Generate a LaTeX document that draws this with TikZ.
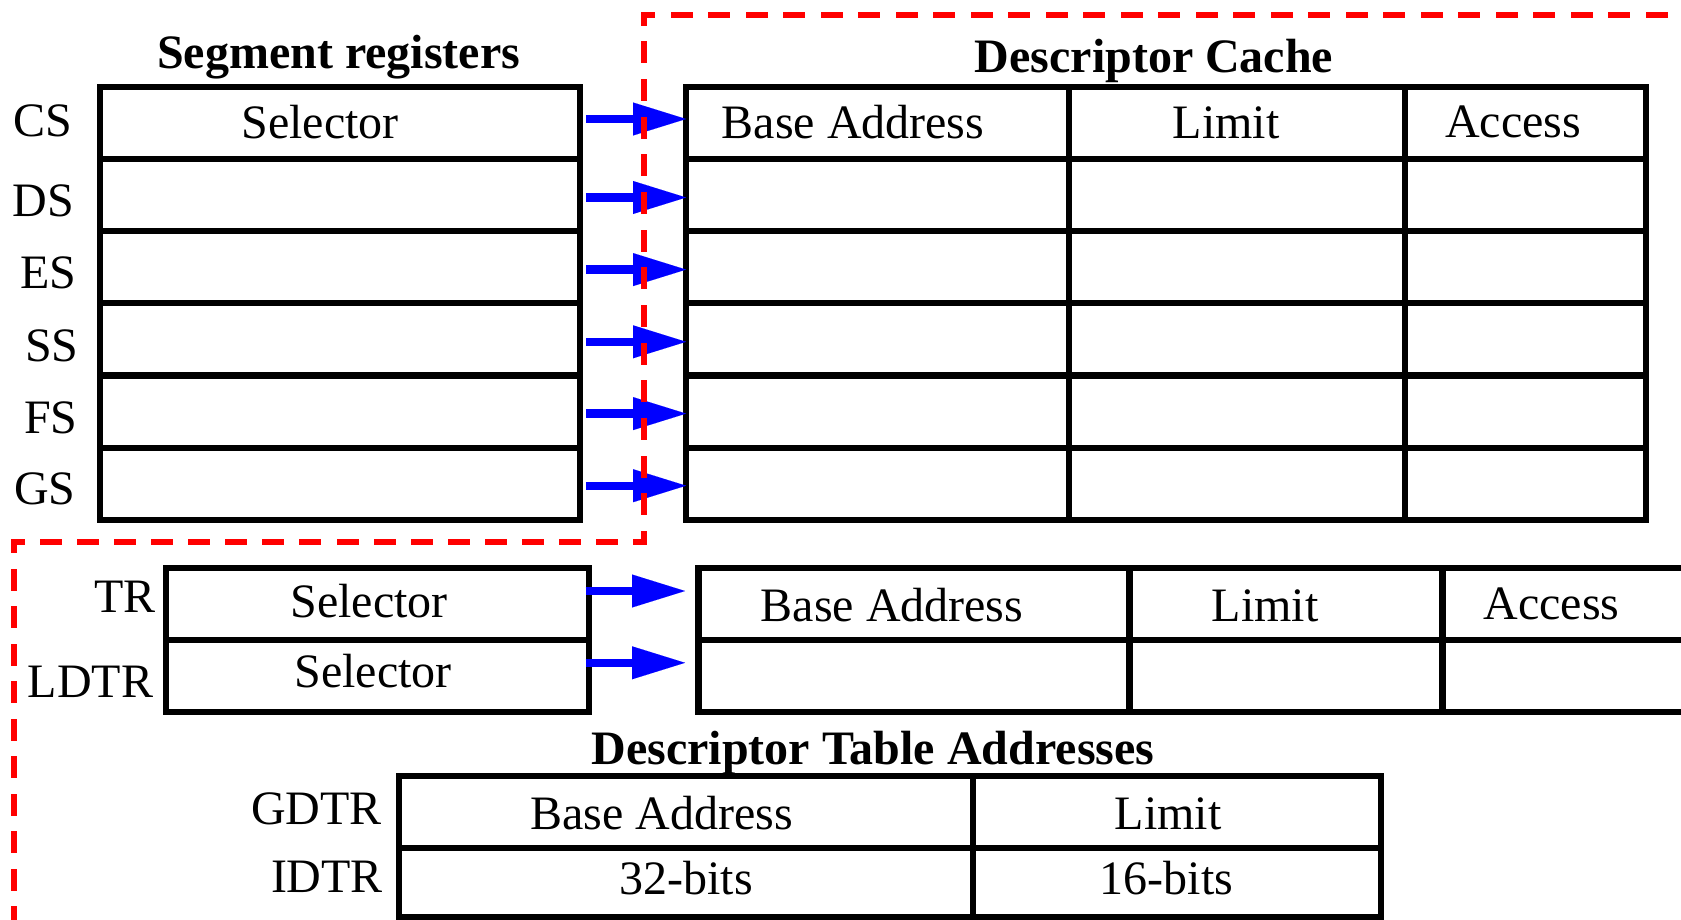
\documentclass[tikz,border=0pt]{standalone}
\usepackage{fontspec}
\setmainfont{Liberation Serif}
\usetikzlibrary{arrows.meta}
\begin{document}
\begin{tikzpicture}[x=1pt,y=-1pt,
  cell/.style={draw=black, line width=6.3pt, inner sep=0pt, outer sep=0pt, rectangle},
  txt/.style={inner sep=0pt, outer sep=0pt, text height=31.7pt, text depth=0pt, font=\fontsize{48}{58}\selectfont},
  ttl/.style={txt, font=\fontsize{48}{58}\selectfont\bfseries},
  arr/.style={draw=blue, line width=8.3pt, -{Triangle[length=53pt,width=33pt,line width=0.01pt]}},
  reddash/.style={draw=red, line width=5.8pt, line cap=rect}
]
\clip (0,0) rectangle (1681,920);
\fill[white] (0,0) rectangle (1681,920);

% Segment registers and descriptor cache
\foreach \i/\y in {1/122.8,2/195,3/267.2,4/339.4,5/411.6,6/483.8} {
  \node[cell, minimum width=480pt, minimum height=72.2pt] (s\i) at (340,\y) {};
  \node[cell, minimum width=383pt, minimum height=72.2pt] (ca\i) at (877.5,\y) {};
  \node[cell, minimum width=336pt, minimum height=72.2pt] (cb\i) at (1237,\y) {};
  \node[cell, minimum width=241pt, minimum height=72.2pt] (cc\i) at (1525.5,\y) {};
}
\foreach \i/\u in {1/3.8,2/-2.5,3/-2.4,4/-2.4,5/-2,6/-1.9}
  \draw[arr] ([xshift=6pt,yshift=\u pt]s\i.east) -- ([yshift=\u pt]ca\i.west);

% TR / LDTR
\node[cell, minimum width=423pt, minimum height=72pt] (t1) at (377.5,604) {};
\node[cell, minimum width=423pt, minimum height=72pt] (t2) at (377.5,676) {};
\node[cell, minimum width=431pt, minimum height=72pt] (la1) at (914,604) {};
\node[cell, minimum width=313pt, minimum height=72pt] (lb1) at (1286,604) {};
\node[cell, minimum width=257.5pt, minimum height=72pt] (lc1) at (1571,604) {};
\node[cell, minimum width=431pt, minimum height=72pt] (la2) at (914,676) {};
\node[cell, minimum width=313pt, minimum height=72pt] (lb2) at (1286,676) {};
\node[cell, minimum width=257.5pt, minimum height=72pt] (lc2) at (1571,676) {};
\draw[arr, shorten >=13.5pt] ([xshift=-3.5pt,yshift=13pt]t1.east) -- ([yshift=13pt]la1.west);
\draw[arr, shorten >=13.5pt] ([xshift=-3.5pt,yshift=13.2pt]t2.east) -- ([yshift=13.2pt]la2.west);

% GDTR / IDTR
\node[cell, minimum width=574.3pt, minimum height=72.3pt] (g1a) at (685.85,812.15) {};
\node[cell, minimum width=408pt, minimum height=72.3pt] (g1b) at (1177,812.15) {};
\node[cell, minimum width=574.3pt, minimum height=68.4pt] (g2a) at (685.85,882.5) {};
\node[cell, minimum width=408pt, minimum height=68.4pt] (g2b) at (1177,882.5) {};

% Red dashed boundary
\coordinate (rA) at (644,14.8);
\coordinate (rE) at (1700,14.8);
\coordinate (rB) at (644,542);
\coordinate (rC) at (14,542);
\coordinate (rD) at (14,940);
\draw[reddash, dash pattern=on 16.2pt off 21.3pt, dash phase=8.1pt] (rA) -- (rE);
\draw[reddash, dash pattern=on 16.2pt off 21.457pt, dash phase=8.1pt] (rA) -- (rB);
\draw[reddash, dash pattern=on 16.2pt off 20.859pt, dash phase=8.1pt] (rB) -- (rC);
\draw[reddash, dash pattern=on 16.2pt off 21.3pt, dash phase=8.1pt] (rC) -- (rD);

% Titles
\node[ttl] (tseg) at (338.6,52.7) {Segment registers};
\node[ttl] (tcache) at (1154,57) {Descriptor Cache};
\node[ttl] (tdta) at (873,749) {Descriptor Table Addresses};

% Labels
\node[txt] (lcs) at (43,120.8) {CS};
\node[txt] (lds) at (43.5,201) {DS};
\node[txt] (les) at (48.5,273) {ES};
\node[txt] (lss) at (52,346) {SS};
\node[txt] (lfs) at (51,418) {FS};
\node[txt] (lgs) at (45,489) {GS};
\node[txt] (ltr) at (125,597) {TR};
\node[txt] (lldtr) at (90.5,682) {LDTR};
\node[txt] (lgdtr) at (316.5,809) {GDTR};
\node[txt] (lidtr) at (327,877) {IDTR};

% Cell texts
\node[txt] (xsel) at (320,122.8) {Selector};
\node[txt] (xba1) at (853,123) {Base Address};
\node[txt] (xli1) at (1226,123) {Limit};
\node[txt] (xac1) at (1513,122) {Access};
\node[txt] (xsel2) at (369,602) {Selector};
\node[txt] (xsel3) at (373,672) {Selector};
\node[txt] (xba2) at (892,606) {Base Address};
\node[txt] (xli2) at (1265,606) {Limit};
\node[txt] (xac2) at (1551.5,604) {Access};
\node[txt] (xba3) at (661.5,814) {Base Address};
\node[txt] (xli3) at (1168,814) {Limit};
\node[txt] (x32) at (686,879) {32-bits};
\node[txt] (x16) at (1166.5,879) {16-bits};
\end{tikzpicture}
\end{document}
